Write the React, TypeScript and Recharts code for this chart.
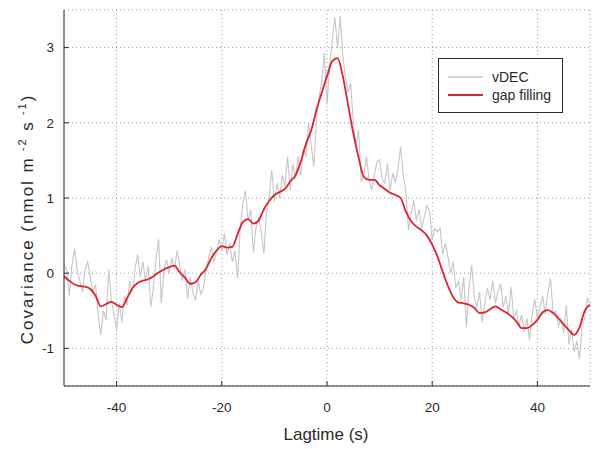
import {
  CartesianGrid,
  Label,
  Legend,
  Line,
  LineChart,
  XAxis,
  YAxis,
} from "recharts";

// Lag grid: the raw vDEC series is sampled every 0.5 s, gap filling every 1 s.
const LAG_START = -50;
const VDEC_STEP = 0.5;

const vdec = [
  0.12, 0.05, -0.3, 0.1, 0.32, 0.05, -0.1, -0.25, 0.05, 0.15,
  -0.05, -0.25, -0.15, -0.55, -0.82, -0.5, -0.62, 0.05, -0.35, -0.55,
  -0.75, -0.4, -0.65, -0.3, -0.42, -0.1, -0.25, 0.05, 0.25, -0.05,
  0.15, -0.1, 0.1, -0.45, -0.2, 0.2, 0.45, -0.4, 0.05, 0.18,
  0.0, 0.2, 0.05, 0.3, 0.1, -0.1, 0.05, -0.34, -0.05, -0.25,
  -0.36, -0.1, -0.28, -0.2, 0.05, 0.2, 0.35, 0.15, 0.28, 0.45,
  0.3, 0.53, 0.25, 0.4, 0.15, 0.3, -0.07, 0.6, 0.93, 1.1,
  0.7, 0.85, 0.28, 0.6, 0.75, 0.55, 0.26, 0.8, 1.0, 1.37,
  0.95, 1.2, 1.0, 1.3, 1.15, 1.55, 1.1, 1.45, 1.25, 1.55,
  1.3, 1.65, 1.55, 2.0, 1.7, 1.42, 2.05, 2.35, 2.55, 2.93,
  2.24, 2.75, 3.1, 3.4, 3.0, 3.42, 2.9, 2.6, 2.4, 2.53,
  2.0, 1.7, 1.9, 1.22, 1.3, 1.55, 1.25, 1.1, 1.3, 1.48,
  1.51, 1.25, 1.2, 1.45, 1.1, 1.33, 1.2, 1.4, 1.68, 1.3,
  1.1, 0.57, 0.8, 0.97, 0.7, 0.85, 0.6, 0.75, 0.9, 0.82,
  0.44, 0.6, 0.55, 0.6, 0.25, 0.4, 0.22, 0.0, 0.15, -0.2,
  -0.1, -0.35, -0.05, -0.72, -0.2, 0.11, -0.3, -0.45, -0.25, -0.65,
  -0.4, -0.2, -0.35, -0.1, -0.4, -0.25, -0.14, -0.45, -0.3, -0.55,
  -0.18, -0.6, -0.5, -0.7, -0.55, -0.78, -0.6, -0.89, -0.55, -0.35,
  -0.6, -0.45, -0.3, -0.55, -0.25, -0.07, -0.55, -0.5, -0.7, -0.6,
  -0.8, -0.43, -0.95, -0.75, -1.05, -0.9, -1.14, -0.7, -0.6, -0.34,
  -0.4,
];

const gapFilling = [
  -0.04, -0.1, -0.15, -0.17, -0.18, -0.21, -0.3, -0.44, -0.41, -0.38,
  -0.42, -0.45, -0.33, -0.2, -0.13, -0.1, -0.08, -0.04, 0.01, 0.05,
  0.08, 0.1, 0.01, -0.06, -0.14, -0.12, -0.02, 0.06, 0.2, 0.3,
  0.36, 0.34, 0.35, 0.52, 0.68, 0.72, 0.66, 0.7, 0.85, 0.96,
  1.04, 1.08, 1.12, 1.22, 1.3, 1.48, 1.72, 1.9, 2.17, 2.4,
  2.62, 2.82, 2.86, 2.62, 2.24, 1.86, 1.54, 1.28, 1.24, 1.24,
  1.17, 1.12, 1.07, 1.04, 1.0, 0.82, 0.69, 0.62, 0.57, 0.5,
  0.38, 0.22, 0.02, -0.17, -0.32, -0.39, -0.4, -0.42, -0.46, -0.53,
  -0.52, -0.48, -0.44, -0.48, -0.52, -0.57, -0.64, -0.73, -0.73, -0.69,
  -0.62, -0.52, -0.49, -0.53, -0.6, -0.68, -0.76, -0.82, -0.72, -0.5,
  -0.42,
];

const xTicks = [-40, -20, 0, 20, 40];
const yTicks = [-1, 0, 1, 2, 3];

const GRAY = "#c6c6c6";
const RED = "#dc2430";
const INK = "#2a2a2a";
const FONT = "'Liberation Sans', Arial, sans-serif";

const rows = vdec.map((v, i) => {
  const lag = LAG_START + i * VDEC_STEP;
  return {
    lag,
    vdec: v,
    gap: Number.isInteger(lag) ? gapFilling[lag - LAG_START] : null,
  };
});

function YTitle() {
  return (
    <text
      x={33}
      y={219}
      transform="rotate(-90, 33, 219)"
      textAnchor="middle"
      fontSize={17}
      letterSpacing={2}
      fill={INK}
      fontFamily={FONT}
    >
      Covariance (nmol m
      <tspan dy={-7} fontSize={11}>
        {" -2"}
      </tspan>
      <tspan dy={7}> s</tspan>
      <tspan dy={-7} fontSize={11}>
        {" -1"}
      </tspan>
      <tspan dy={7}>)</tspan>
    </text>
  );
}

function XTitle() {
  return (
    <text
      x={326}
      y={440}
      textAnchor="middle"
      fontSize={17}
      fill={INK}
      fontFamily={FONT}
    >
      Lagtime (s)
    </text>
  );
}

function LegendBox() {
  return (
    <svg width={125} height={55} style={{ display: "block" }}>
      <rect x={0.5} y={0.5} width={124} height={54} fill="#fff" stroke={INK} />
      <line x1={10} x2={45} y1={19} y2={19} stroke={GRAY} strokeWidth={1.5} />
      <line x1={10} x2={45} y1={37} y2={37} stroke={RED} strokeWidth={2} />
      <text x={54} y={24} fontSize={14} fill={INK} fontFamily={FONT}>
        vDEC
      </text>
      <text x={54} y={42} fontSize={14} fill={INK} fontFamily={FONT}>
        gap filling
      </text>
    </svg>
  );
}

const tickStyle = { fill: INK, fontSize: 13.5, fontFamily: FONT };

export default function App() {
  return (
    <div style={{ position: "absolute", left: 0, top: 0, background: "#fff" }}>
      <LineChart
        width={600}
        height={449}
        data={rows}
        margin={{ top: 10, right: 10, bottom: 0, left: 0 }}
      >
        <CartesianGrid stroke="#9a9a9a" strokeDasharray="1 3" />
        <XAxis
          dataKey="lag"
          type="number"
          domain={[-50, 50]}
          ticks={xTicks}
          height={63}
          stroke={INK}
          tickSize={-5}
          tickMargin={21}
          tick={tickStyle}
        >
          <Label content={XTitle} />
        </XAxis>
        <XAxis
          xAxisId="top"
          orientation="top"
          type="number"
          domain={[-50, 50]}
          ticks={xTicks}
          height={0}
          stroke={INK}
          tickSize={-5}
          tickFormatter={() => ""}
        />
        <YAxis
          type="number"
          domain={[-1.5, 3.5]}
          ticks={yTicks}
          width={64}
          stroke={INK}
          tickSize={-5}
          tickMargin={15}
          tick={tickStyle}
        >
          <Label content={YTitle} />
        </YAxis>
        <YAxis
          yAxisId="right"
          orientation="right"
          type="number"
          domain={[-1.5, 3.5]}
          ticks={yTicks}
          width={0}
          stroke={INK}
          tickSize={-5}
          tickFormatter={() => ""}
        />
        <Legend
          layout="horizontal"
          verticalAlign="middle"
          align="center"
          content={LegendBox}
          wrapperStyle={{ position: "absolute", left: 438, top: 58, width: 125, height: 55 }}
        />
        <Line
          dataKey="vdec"
          name="vDEC"
          type="linear"
          stroke={GRAY}
          strokeWidth={1.1}
          dot={false}
          activeDot={false}
          isAnimationActive={false}
        />
        <Line
          dataKey="gap"
          name="gap filling"
          type="monotone"
          stroke={RED}
          strokeWidth={1.8}
          dot={false}
          activeDot={false}
          connectNulls
          isAnimationActive={false}
        />
      </LineChart>
    </div>
  );
}
